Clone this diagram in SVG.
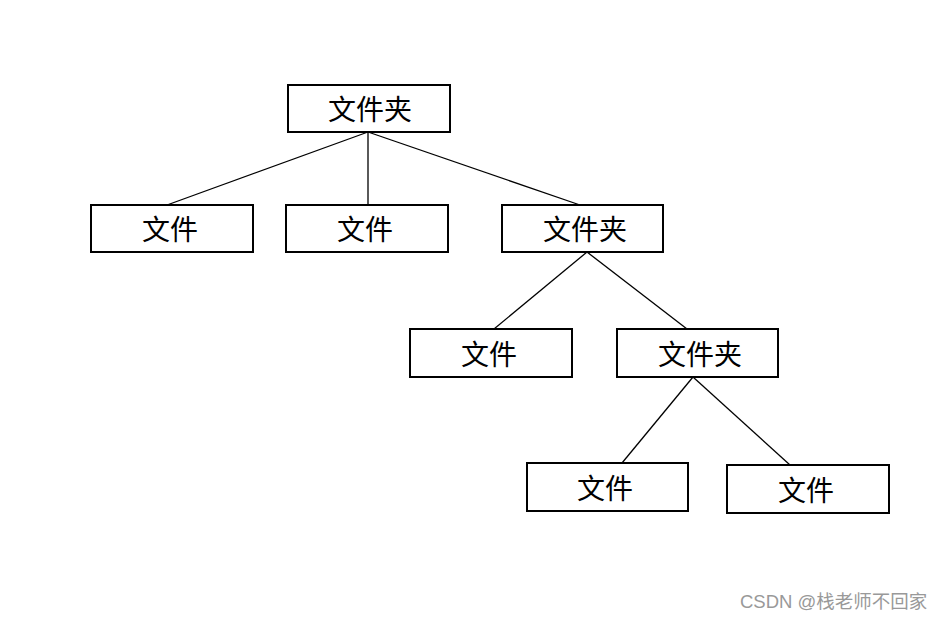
<svg xmlns="http://www.w3.org/2000/svg" width="946" height="620" viewBox="0 0 946 620">
<style>
.box{fill:#fff;stroke:#000;stroke-width:2}
.lbl{font-family:"Noto Sans CJK SC","Noto Sans CJK JP",sans-serif;font-size:28px;font-weight:400;fill:#000;text-anchor:middle;dominant-baseline:central}
.edge{stroke:#000;stroke-width:1.3;fill:none}
.wm{font-family:"Liberation Sans","Noto Sans CJK SC",sans-serif;font-size:18.5px;fill:#999}
</style>
<rect width="946" height="620" fill="#fff"/>
<g id="connectors">
<line class="edge" x1="368" y1="132" x2="167" y2="205"/>
<line class="edge" x1="368" y1="132" x2="368" y2="205"/>
<line class="edge" x1="368" y1="132" x2="580" y2="205"/>
<line class="edge" x1="587" y1="252" x2="494" y2="329"/>
<line class="edge" x1="587" y1="252" x2="687" y2="329"/>
<line class="edge" x1="693" y1="377" x2="622" y2="463"/>
<line class="edge" x1="693" y1="377" x2="790" y2="465"/>
</g>
<g id="root"><rect class="box" x="288" y="85" width="162" height="47"/><text class="lbl" x="370" y="108">文件夹</text></g>
<g id="file1"><rect class="box" x="91" y="205" width="162" height="47"/><text class="lbl" x="170" y="228">文件</text></g>
<g id="file2"><rect class="box" x="286" y="205" width="162" height="47"/><text class="lbl" x="365" y="228">文件</text></g>
<g id="folder2"><rect class="box" x="502" y="205" width="161" height="47"/><text class="lbl" x="585" y="228">文件夹</text></g>
<g id="file3"><rect class="box" x="410" y="329" width="162" height="48"/><text class="lbl" x="489" y="353">文件</text></g>
<g id="folder3"><rect class="box" x="617" y="329" width="161" height="48"/><text class="lbl" x="700" y="353">文件夹</text></g>
<g id="file4"><rect class="box" x="527" y="463" width="161" height="48"/><text class="lbl" x="605" y="487">文件</text></g>
<g id="file5"><rect class="box" x="727" y="465" width="162" height="48"/><text class="lbl" x="806" y="489">文件</text></g>
<text class="wm" x="740" y="608">CSDN @栈老师不回家</text>
</svg>
